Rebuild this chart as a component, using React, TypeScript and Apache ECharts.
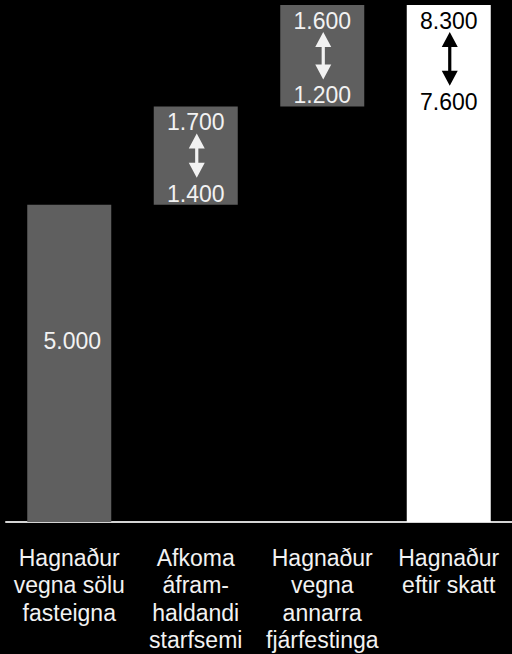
import React, { useEffect, useRef } from "react";
import * as echarts from "echarts";

const categories = [
  "Hagnaður\nvegna sölu\nfasteigna",
  "Afkoma\náfram-\nhaldandi\nstarfsemi",
  "Hagnaður\nvegna\nannarra\nfjárfestinga",
  "Hagnaður\neftir skatt",
];
const baseValues = [0, 5000, 6550, 0];
const barValues = [5000, 1550, 1600, 8150];
const barLabels = ["5.000", "", "", ""];
const rangeHigh = ["1.700", "1.600", "8.300"];
const rangeLow = ["1.400", "1.200", "7.600"];
// [category index, low, high] of each range annotation
const annotationSpans = [
  [1, 5000, 6550],
  [2, 6550, 8150],
  [3, 6450, 8150],
];
const annotationInk = ["#f2f2f2", "#f2f2f2", "#000000"];
const barColors = ["#5f5f5f", "#5f5f5f", "#5f5f5f", "#ffffff"];

const FONT = "'Liberation Sans', Arial, Helvetica, sans-serif";

export default function App() {
  const ref = useRef<HTMLDivElement>(null);
  useEffect(() => {
    if (!ref.current) return;
    const chart = echarts.init(ref.current, null, { renderer: "svg" });
    chart.setOption({
      animation: false,
      backgroundColor: "#000000",
      grid: { left: 6, top: 5, width: 510, bottom: 129 },
      xAxis: {
        type: "category",
        data: categories,
        axisLine: { show: true, lineStyle: { color: "#d4d4d4", width: 2 } },
        axisTick: { show: false },
        axisLabel: {
          interval: 0,
          color: "#f2f2f2",
          fontSize: 23,
          fontFamily: FONT,
          lineHeight: 27.5,
          margin: 22,
        },
        splitLine: { show: false },
      },
      yAxis: {
        type: "value",
        min: 0,
        max: 8150,
        show: false,
        splitLine: { show: false },
      },
      series: [
        {
          type: "bar",
          stack: "w",
          data: baseValues,
          barWidth: 84,
          itemStyle: { color: "transparent" },
          silent: true,
        },
        {
          type: "bar",
          stack: "w",
          barWidth: 84,
          data: barValues.map((v, i) => ({
            value: v,
            itemStyle: { color: barColors[i] },
            label: {
              show: barLabels[i] !== "",
              formatter: barLabels[i],
              position: "inside",
              offset: [3, -22],
              color: "#f2f2f2",
              fontSize: 23,
              fontFamily: FONT,
            },
          })),
        },
        {
          type: "custom",
          data: annotationSpans,
          encode: { x: 0, y: [1, 2] },
          z: 10,
          renderItem: (params: any, api: any) => {
            const i = params.dataIndex;
            const idx = api.value(0);
            const low = api.value(1);
            const high = api.value(2);
            const pLow = api.coord([idx, low]);
            const pHigh = api.coord([idx, high]);
            const cx = pLow[0];
            const top = pHigh[1];
            const bottom = pLow[1];
            const ink = annotationInk[i];
            const y1 = top + 27;
            const y2 = bottom - 27;
            const ax = cx + 1;
            const hw = 8;
            const hh = 15;
            const sw = 1.6;
            const points = [
              [ax, y1],
              [ax + hw, y1 + hh],
              [ax + sw, y1 + hh],
              [ax + sw, y2 - hh],
              [ax + hw, y2 - hh],
              [ax, y2],
              [ax - hw, y2 - hh],
              [ax - sw, y2 - hh],
              [ax - sw, y1 + hh],
              [ax - hw, y1 + hh],
            ];
            return {
              type: "group",
              children: [
                {
                  type: "text",
                  style: {
                    text: rangeHigh[i],
                    x: cx,
                    y: top + 16,
                    align: "center",
                    verticalAlign: "middle",
                    fill: ink,
                    fontSize: 23,
                    fontFamily: FONT,
                  },
                },
                {
                  type: "text",
                  style: {
                    text: rangeLow[i],
                    x: cx,
                    y: bottom - 11,
                    align: "center",
                    verticalAlign: "middle",
                    fill: ink,
                    fontSize: 23,
                    fontFamily: FONT,
                  },
                },
                {
                  type: "polygon",
                  shape: { points },
                  style: { fill: ink },
                },
              ],
            };
          },
        },
      ],
    });
    return () => chart.dispose();
  }, []);
  return (
    <div
      ref={ref}
      style={{
        position: "fixed",
        left: 0,
        top: 0,
        width: 512,
        height: 654,
        background: "#000",
      }}
    />
  );
}
